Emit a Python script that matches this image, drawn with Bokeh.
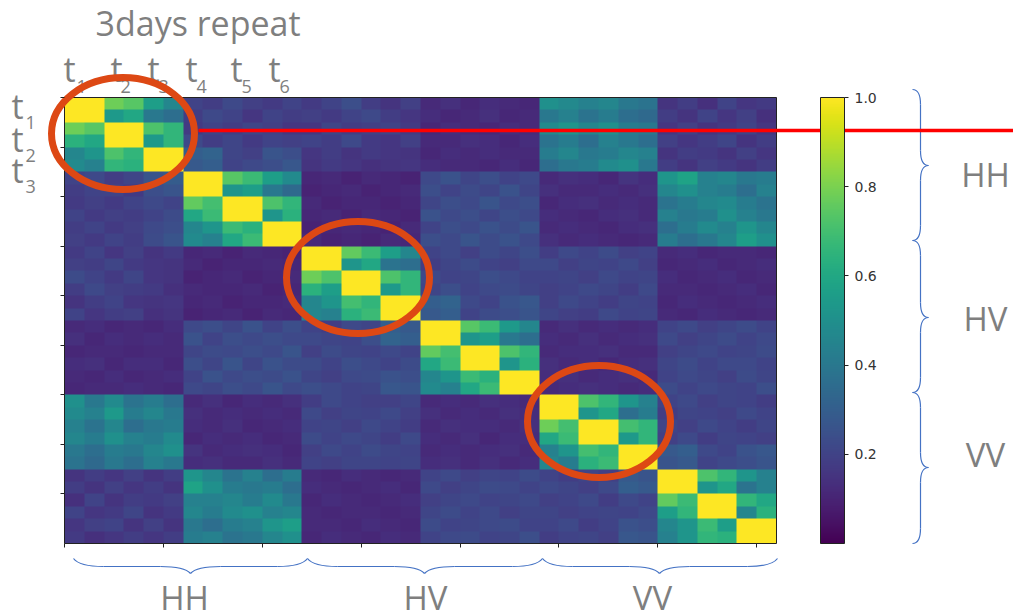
import numpy as np
from bokeh.plotting import figure
from bokeh.models import Range1d, LinearAxis, FixedTicker, LinearColorMapper, ColorBar, NumeralTickFormatter
from bokeh.palettes import Viridis256
from bokeh.core.properties import value
from bokeh.embed import file_html
from bokeh.resources import INLINE

HEAT_PERCENT = [
 [100,100,78,74,56,46,20,18,22,19,17,20,17,20,24,18,15,19,12,14,11,13,12,11,50,47,44,46,40,38,15,18,14,20,16,17],
 [100,100,54,60,40,36,18,22,20,16,20,18,19,17,20,22,18,16,13,11,12,14,11,12,40,44,38,42,36,34,18,15,20,16,19,14],
 [78,74,100,100,72,66,17,20,18,21,19,16,16,21,18,19,20,17,11,13,12,11,13,12,48,52,46,50,42,40,16,19,15,17,20,16],
 [64,60,100,100,54,66,22,18,21,17,20,19,20,18,22,17,16,19,12,12,14,13,11,13,38,42,36,44,40,36,19,16,18,21,15,18],
 [46,52,72,66,100,100,30,32,21,19,26,24,16,18,15,17,16,15,11,13,12,13,12,12,42,46,40,42,46,44,15,18,17,15,19,16],
 [48,44,66,64,100,100,28,30,20,22,24,27,15,17,16,14,15,16,13,12,12,11,13,11,36,40,42,48,50,40,18,15,19,17,15,18],
 [20,22,18,21,26,29,100,100,74,68,56,48,11,12,10,12,11,10,22,25,21,24,20,22,12,14,13,11,15,13,52,58,44,46,40,42],
 [18,20,20,17,24,26,100,100,52,56,40,34,10,11,12,10,11,12,24,20,23,21,25,21,14,12,12,13,12,14,46,50,44,42,36,44],
 [17,19,17,20,22,20,76,70,100,100,72,66,12,10,11,11,10,11,21,24,22,26,22,24,11,13,14,12,13,12,38,42,46,48,42,38],
 [20,17,19,18,20,23,60,68,100,100,52,64,11,12,10,12,11,10,25,22,24,21,24,22,13,12,11,13,14,12,44,40,42,50,44,40],
 [18,20,17,19,22,24,46,52,68,64,100,100,10,11,12,11,10,12,20,24,22,25,23,26,12,13,12,11,13,14,36,42,48,44,52,46],
 [19,17,20,18,23,26,48,44,60,68,100,100,12,10,11,10,12,11,24,22,26,23,25,22,14,12,13,12,11,12,42,36,40,46,56,50],
 [17,20,16,19,15,17,11,12,10,12,11,10,100,100,76,68,56,46,20,22,19,23,21,24,18,22,20,23,19,20,12,13,11,12,12,11],
 [19,18,21,17,16,15,12,10,11,11,12,11,100,100,52,60,38,36,18,21,23,20,19,22,22,19,21,20,22,19,11,12,13,11,12,13],
 [23,20,17,21,16,15,10,11,12,10,11,12,78,72,100,100,72,66,22,20,21,24,22,20,20,21,19,22,20,21,13,11,12,13,11,12],
 [18,22,19,18,17,14,12,11,11,12,10,11,64,56,100,100,54,66,21,24,20,22,23,21,19,20,22,21,18,22,12,12,11,12,13,11],
 [15,18,20,16,15,16,11,12,10,11,11,12,46,52,70,66,100,100,30,32,22,20,25,27,19,22,20,18,21,20,11,13,12,11,12,13],
 [20,16,18,19,14,15,10,11,12,10,12,11,46,44,64,68,100,100,28,30,20,23,24,26,21,19,18,22,20,21,12,11,13,12,11,12],
 [12,13,11,12,11,13,22,24,21,25,20,24,20,18,22,21,30,28,100,100,74,68,54,46,12,14,12,13,12,13,20,22,19,21,23,20],
 [14,11,13,12,13,12,25,20,24,22,24,22,22,21,20,24,32,30,100,100,52,56,40,36,13,12,14,12,13,14,22,19,21,23,20,22],
 [11,12,12,11,12,12,21,23,22,24,22,26,19,23,21,20,22,20,76,70,100,100,72,66,12,13,13,14,12,12,19,21,22,20,21,23],
 [13,14,11,13,13,11,24,21,26,21,25,23,23,20,24,22,20,23,60,68,100,100,52,64,14,12,13,11,13,14,21,23,20,22,22,20],
 [12,11,13,11,12,13,20,25,22,24,23,25,21,19,22,23,25,24,46,52,68,64,100,100,13,14,12,13,14,12,20,22,21,19,23,21],
 [11,12,12,13,12,11,22,21,24,22,26,22,24,22,20,21,27,26,48,44,60,68,100,100,12,13,14,13,12,13,23,20,22,21,20,24],
 [50,40,48,38,42,36,12,14,11,13,12,14,18,22,20,19,19,21,12,13,12,14,13,12,100,100,72,66,52,44,20,22,19,21,20,18],
 [48,44,54,42,46,40,14,12,13,12,13,12,22,19,21,20,22,19,14,12,13,12,14,13,100,100,52,60,36,42,18,21,20,19,22,20],
 [44,38,46,36,40,42,13,12,14,11,12,13,20,21,19,22,20,18,12,14,13,13,12,14,78,70,100,100,70,66,21,19,22,20,18,21],
 [46,42,50,44,42,48,11,13,12,13,11,12,23,20,22,21,18,22,13,12,14,11,13,13,60,68,100,100,54,66,19,22,18,21,20,19],
 [40,36,42,40,46,50,15,12,13,14,13,11,19,22,20,23,21,20,12,13,12,13,14,12,44,52,70,66,100,100,28,30,22,20,25,27],
 [38,34,40,36,44,40,13,14,12,12,14,12,20,19,21,21,20,21,13,14,12,14,12,13,46,42,64,68,100,100,26,28,20,22,24,26],
 [15,18,16,19,15,18,52,46,38,44,36,42,12,11,13,12,11,12,20,22,19,21,20,23,20,18,21,19,28,26,100,100,72,66,52,44],
 [18,15,19,16,18,15,58,50,42,40,42,36,13,12,11,12,13,11,22,19,21,23,22,20,22,21,19,22,30,28,100,100,52,60,38,44],
 [14,20,15,18,17,19,44,44,46,42,48,40,11,13,12,11,12,13,19,21,22,20,21,22,19,20,22,18,22,20,76,68,100,100,66,60],
 [20,16,17,21,15,17,46,42,48,50,44,46,12,11,12,12,11,12,21,23,20,22,19,21,21,19,20,21,20,22,56,66,100,100,46,64],
 [16,19,20,15,19,15,40,36,42,44,52,56,12,12,11,13,12,11,23,20,21,22,23,20,20,22,18,20,25,24,46,52,68,56,100,100],
 [17,14,16,18,16,18,42,44,38,40,46,50,11,13,12,11,13,12,20,22,23,20,21,24,18,20,21,19,27,26,44,52,66,64,100,100],
]
COLORBAR_TICKS = [0.2, 0.4, 0.6, 0.8, 1.0]
X_TICKS = [0, 2.5, 5, 7.5, 10, 12.5, 15, 17.5]
Y_TICKS = [0, 2, 4, 6, 8, 10, 12, 14, 16]

TITLE = "3days repeat"
GROUPS = ["HH", "HV", "VV"]
TIME_LABELS = ["t", "t", "t", "t", "t", "t"]
TIME_SUBS = ["1", "2", "3", "4", "5", "6"]

GRAY = "#7f7f7f"
BLUE = "#4472c4"
ORANGE = "#dd4814"
FONT = value("Open Sans")

CW = 712 / 18
CH = 446 / 18

p = figure(width=1013, height=612, output_backend="svg", toolbar_location=None,
           x_range=Range1d(0, 1013), y_range=Range1d(612, 0),
           x_axis_location=None, y_axis_location=None, min_border=0,
           outline_line_color=None)
p.grid.visible = False

p.extra_x_ranges["hx"] = Range1d((0 - 64) / CW, (1013 - 64) / CW)
p.extra_y_ranges["hy"] = Range1d((612 - 97) / CH, (0 - 97) / CH)

mapper = LinearColorMapper(palette=Viridis256, low=0.0, high=1.0)
arr = np.array(HEAT_PERCENT, dtype=float) / 100
p.image(image=[arr], x=0, y=0, dw=18, dh=18, color_mapper=mapper,
        x_range_name="hx", y_range_name="hy")
p.quad(left=[0], right=[18], top=[0], bottom=[18], fill_color=None, line_color="#222222",
       line_width=1, x_range_name="hx", y_range_name="hy")

xax = LinearAxis(x_range_name="hx", y_range_name="hy", fixed_location=18, bounds=(0, 18),
                 ticker=FixedTicker(ticks=X_TICKS),
                 major_label_overrides={t: "" for t in X_TICKS},
                 major_tick_in=0, major_tick_out=4, minor_tick_line_color=None,
                 axis_line_color=None, major_tick_line_color="#222222")
p.add_layout(xax, "below")
yax = LinearAxis(x_range_name="hx", y_range_name="hy", fixed_location=0, bounds=(0, 18),
                 ticker=FixedTicker(ticks=Y_TICKS),
                 major_label_overrides={t: "" for t in Y_TICKS},
                 major_tick_in=0, major_tick_out=4, minor_tick_line_color=None,
                 axis_line_color=None, major_tick_line_color="#222222")
p.add_layout(yax, "left")

cb = ColorBar(color_mapper=mapper, ticker=FixedTicker(ticks=COLORBAR_TICKS),
              formatter=NumeralTickFormatter(format="0.0"),
              location=(820, 69), width=24, height=446, padding=0, margin=0,
              major_tick_in=0, major_tick_out=4, major_tick_line_color="#222222",
              minor_tick_line_color=None, bar_line_color="#222222", border_line_color=None,
              background_fill_color=None, label_standoff=6,
              major_label_text_font="DejaVu Sans", major_label_text_font_size="14px",
              major_label_text_color="#333333")
p.add_layout(cb)

def text(xs, ys, labels, size, align="left"):
    p.text(x=xs, y=ys, text=labels, text_font=FONT, text_font_size=size, text_color=GRAY,
           text_align=align, text_baseline="middle")

text([95], [22], [TITLE], "34px")
text([63, 110, 147, 185, 230, 268], [68] * 6, TIME_LABELS, "34px")
text([76, 120, 158, 196, 241, 279], [86] * 6, TIME_SUBS, "18px")
text([11, 11, 11], [105, 138, 169], TIME_LABELS[:3], "34px")
text([25, 25, 25], [122, 155, 186], TIME_SUBS[:3], "18px")
text([985, 985, 985], [174, 318, 454], GROUPS, "33px", "center")
text([184, 425, 652], [597, 597, 597], GROUPS, "33px", "center")

def vbrace(y0, ym, y1):
    xs, xc, xt = 912, 920, 928
    p.quadratic(x0=[xs, xc, xt, xc], y0=[y0, ym - 15, ym, y1 - 15],
                x1=[xc, xt, xc, xs], y1=[y0 + 15, ym, ym + 15, y1],
                cx=[xc, xc, xc, xc], cy=[y0, ym, ym, y1],
                line_color=BLUE, line_width=1.2)
    p.segment(x0=[xc, xc], y0=[y0 + 15, ym + 15], x1=[xc, xc], y1=[ym - 15, y1 - 15],
              line_color=BLUE, line_width=1.2)

def hbrace(x0, xm, x1):
    ys, yc, yt = 558, 566, 573
    p.quadratic(x0=[x0, xm - 30, xm, x1 - 30], y0=[ys, yc, yt, yc],
                x1=[x0 + 30, xm, xm + 30, x1], y1=[yc, yt, yc, ys],
                cx=[x0 + 6, xm - 6, xm + 6, x1 - 6], cy=[yc, yc, yc, yc],
                line_color=BLUE, line_width=1.2)
    p.segment(x0=[x0 + 30, xm + 30], y0=[yc, yc], x1=[xm - 30, x1 - 30], y1=[yc, yc],
              line_color=BLUE, line_width=1.2)

vbrace(89, 165, 240)
vbrace(240, 317, 392)
vbrace(392, 467, 543)
hbrace(73, 190, 307)
hbrace(307, 424, 542)
hbrace(542, 659, 777)

p.segment(x0=[198], y0=[130], x1=[1013], y1=[130], line_color="#ff0000", line_width=3.5)
p.ellipse(x=[122.5, 357.5, 598.5], y=[133, 277, 421], width=[143, 143, 143], height=[112, 112, 112],
          fill_color=None, line_color=ORANGE, line_width=7)

open("out.html", "w").write(file_html(p, INLINE))
